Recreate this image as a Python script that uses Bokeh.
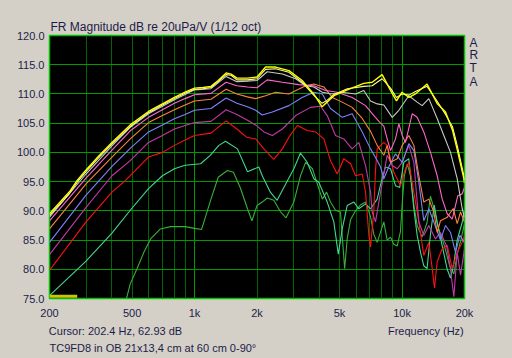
from bokeh.plotting import figure
from bokeh.models import (Range1d, FixedTicker, CustomJSTickFormatter, LinearAxis,
                          LogAxis, Title)
from bokeh.embed import file_html
from bokeh.resources import INLINE

# ---------------- data ----------------
x_ticks = [200, 500, 1000, 2000, 5000, 10000, 20000]
x_tick_labels = ["200", "500", "1k", "2k", "5k", "10k", "20k"]
y_ticks = [75, 80, 85, 90, 95, 100, 105, 110, 115, 120]
grid_major_freqs = [1000, 10000]
grid_minor_freqs = [300, 400, 500, 600, 700, 800, 900,
                    2000, 3000, 4000, 5000, 6000, 7000, 8000, 9000]

title_text = "FR Magnitude dB re 20uPa/V (1/12 oct)"
cursor_text = "Cursor: 202.4 Hz, 62.93 dB"
xlabel_text = "Frequency (Hz)"
note_text = "TC9FD8 in OB 21x13,4 cm at 60 cm 0-90\u00b0"
arta_letters = ["A", "R", "T", "A"]

freq_0 = [200, 250, 272, 300, 350, 400, 490, 600, 700, 800, 900, 1000, 1100, 1200, 1300,
          1420, 1500, 1600, 1800, 2000, 2200, 2460, 2850, 3300, 3750, 4120, 4350, 4700,
          5450, 6540, 7180, 8020, 8800, 9400, 10000, 10800, 11600, 13200, 14800, 16200,
          17500, 18500, 19860, 20000]
spl_0 = [89.5, 93.3, 95.2, 97.0, 99.6, 101.7, 104.7, 107.0, 108.3, 109.4, 110.3, 111.0, 111.1,
         111.3, 112.3, 113.6, 113.4, 112.7, 112.7, 112.9, 114.6, 114.6, 114.0, 112.3, 110.0,
         107.8, 108.6, 109.7, 110.7, 111.8, 112.0, 113.3, 110.6, 108.8, 110.3, 109.4, 110.0,
         111.7, 108.3, 106.9, 103.8, 100.3, 95.5, 94.8]

freq_1 = freq_0
spl_1 = [89.2, 93.0, 94.9, 96.7, 99.3, 101.4, 104.4, 106.8, 108.1, 109.2, 110.1, 110.8, 110.9,
         111.1, 112.1, 113.3, 113.2, 112.4, 112.4, 112.6, 114.2, 114.3, 113.7, 112.0, 109.8,
         108.4, 108.9, 109.9, 110.9, 111.3, 111.4, 112.6, 111.0, 109.4, 110.0, 109.8, 110.4,
         111.3, 108.7, 106.5, 104.4, 101.0, 96.0, 95.2]

freq_2 = [200, 300, 400, 490, 600, 700, 800, 900, 1000, 1200, 1420, 1600, 1800, 2000, 2240,
          2650, 3070, 3430, 3760, 4130, 4600, 5150, 5970, 6540, 7050, 7600, 8170, 8970, 9650,
          10780, 11830, 12500, 13460, 14770, 15900, 17120, 18440, 19490, 20000]
spl_2 = [88.9, 96.3, 101.1, 104.3, 106.6, 107.9, 109.0, 109.9, 110.7, 110.9, 113.0, 112.1,
         112.2, 112.3, 113.8, 113.4, 112.6, 111.4, 111.2, 110.3, 110.0, 110.3, 110.0, 110.6,
         108.8, 108.3, 108.1, 106.0, 107.2, 109.7, 108.6, 108.0, 109.2, 105.8, 102.9, 100.0,
         95.5, 90.4, 88.9]

freq_3 = [200, 300, 400, 490, 600, 700, 800, 900, 1000, 1200, 1420, 1600, 1800, 2000, 2240,
          2650, 3180, 3760, 4280, 4870, 5750, 6670, 7440, 7880, 8170, 8480, 8800, 9300, 9650,
          10020, 10390, 11190, 11830, 12730, 13710, 14770, 15620, 16510, 17460, 18570, 19490,
          20000]
spl_3 = [88.3, 95.6, 100.4, 103.7, 106.0, 107.3, 108.4, 109.2, 109.85, 110.1, 112.0, 111.4,
         111.2, 111.05, 112.4, 112.0, 111.6, 111.4, 110.6, 110.3, 109.4, 108.0, 106.0, 105.0,
         104.5, 102.3, 100.3, 102.3, 104.9, 102.9, 101.7, 106.6, 106.0, 103.5, 100.0, 96.0,
         92.0, 89.5, 88.6, 92.6, 92.9, 94.0]

freq_4 = [200, 300, 400, 490, 600, 700, 800, 900, 1000, 1200, 1420, 1600, 1800, 1970, 2200,
          2460, 2850, 3430, 3760, 4200, 4610, 5150, 5750, 6430, 7050, 7590, 8170, 8480, 8800,
          9480, 10020, 10780, 11400, 12050, 12730, 13460, 14230, 14770, 15320, 16510, 17640,
          18440, 19140, 20000]
spl_4 = [86.9, 94.6, 99.2, 102.3, 105.1, 106.3, 107.3, 108.1, 108.8, 109.1, 110.8, 110.0,
         109.5, 109.2, 109.7, 110.3, 110.0, 111.4, 111.7, 111.2, 109.4, 108.6, 107.7, 105.8,
         103.6, 101.2, 99.5, 101.2, 98.3, 98.9, 101.2, 102.9, 101.2, 96.0, 91.5, 92.0, 89.8,
         86.3, 88.3, 88.9, 90.4, 87.8, 89.8, 88.1]

freq_5 = [200, 300, 400, 490, 600, 700, 800, 900, 1000, 1200, 1420, 1600, 1800, 1970, 2120,
          2370, 2850, 3300, 3760, 4130, 4520, 5150, 5750, 6430, 7050, 7590, 7880, 8170, 8630,
          9300, 10020, 10780, 11400, 12050, 12730, 13460, 14230, 15320, 16200, 17120, 18100,
          18990, 20000]
spl_5 = [84.6, 92.7, 97.6, 100.7, 103.5, 104.7, 105.75, 106.5, 107.2, 107.5, 109.3, 108.4,
         107.8, 107.2, 106.4, 106.9, 108.0, 109.4, 110.3, 110.0, 107.5, 106.0, 106.6, 103.5,
         100.6, 98.6, 97.5, 95.5, 97.5, 99.75, 98.3, 101.5, 100.3, 94.9, 88.3, 90.35, 88.1,
         85.0, 87.5, 86.3, 82.9, 85.8, 84.6]

freq_6 = [200, 300, 400, 490, 600, 700, 800, 900, 1000, 1200, 1420, 1600, 1800, 1970, 2160,
          2370, 2650, 3070, 3620, 4050, 4360, 4780, 5240, 5750, 6190, 6670, 7050, 7180, 7450,
          7880, 8480, 8970, 9480, 10020, 10780, 11400, 12050, 12730, 13460, 14490, 15320,
          16400, 17120, 17770, 18440, 19140, 20000]
spl_6 = [82.5, 90.6, 96.0, 98.6, 101.7, 102.9, 104.0, 104.6, 105.1, 105.3, 107.3, 106.5,
         105.5, 104.7, 103.5, 102.9, 104.0, 106.3, 107.7, 107.9, 106.3, 102.9, 102.3, 100.6,
         101.7, 97.75, 93.2, 89.8, 88.1, 93.2, 99.5, 97.75, 97.2, 98.3, 101.2, 98.3, 88.1,
         85.8, 87.5, 85.2, 86.3, 84.0, 80.0, 75.3, 82.9, 79.0, 83.5]

freq_7 = [200, 300, 400, 465, 600, 700, 800, 900, 1000, 1200, 1420, 1600, 1780, 1970, 2160,
          2410, 2650, 2850, 3130, 3490, 3830, 4200, 4520, 4870, 5240, 5650, 5970, 6430, 6670,
          6920, 7050, 7310, 7450, 7590, 8170, 8480, 9130, 9830, 10390, 10780, 11400, 12050,
          12730, 13460, 13980, 14340, 14770, 15620, 16510, 17460, 18440, 19490, 20000]
spl_7 = [79.8, 88.1, 93.2, 95.2, 99.2, 100.0, 101.2, 102.1, 102.9, 103.3, 105.4, 104.0,
         102.6, 102.3, 100.6, 98.8, 100.6, 102.6, 104.6, 103.75, 103.5, 102.3, 98.6, 96.3,
         98.9, 98.05, 96.0, 96.3, 93.2, 85.8, 83.8, 90.0, 97.0, 100.6, 101.7, 101.2, 96.6,
         94.3, 97.2, 98.3, 93.2, 88.1, 82.35, 84.6, 80.1, 76.8, 81.3, 83.5, 84.1, 80.1, 82.9,
         84.6, 85.8]

freq_8 = [200, 300, 400, 490, 600, 700, 800, 900, 1070, 1190, 1310, 1410, 1610, 1800, 2040,
          2120, 2320, 2500, 2750, 3010, 3240, 3490, 3760, 3970, 4360, 4690, 4930, 5150, 5440,
          5860, 6190, 6670, 7050, 7590, 7880, 8320, 8800, 9300, 9750, 10200, 10780, 11400,
          11830, 12280, 12730, 13200, 13710, 14300, 14770, 15620, 16510, 17120, 17770, 18440,
          19490, 20000]
spl_8 = [75.5, 81.4, 86.2, 90.1, 93.8, 96.0, 97.2, 97.8, 98.05, 99.5, 101.2, 101.9, 100.6,
         96.7, 97.5, 96.0, 93.2, 91.8, 94.6, 97.2, 99.9, 98.3, 95.5, 94.9, 91.5, 88.1, 82.6,
         86.9, 90.9, 91.5, 90.35, 91.2, 90.35, 92.0, 94.5, 97.5, 97.2, 94.3, 94.0, 98.3, 98.9,
         90.35, 85.8, 82.9, 80.6, 80.1, 86.0, 91.0, 88.0, 84.0, 80.0, 78.5, 81.0, 85.0, 88.0,
         89.9]

freq_9 = [470, 490, 528, 570, 614, 684, 766, 900, 1000, 1080, 1110, 1200, 1300, 1440, 1540,
          1660, 1800, 1890, 2000, 2120, 2240, 2410, 2600, 2760, 3010, 3240, 3430, 3700, 3930,
          4130, 4330, 4520, 4780, 5050, 5290, 5440, 5650, 5970, 6300, 6670, 7050, 7310, 7590,
          8170, 8480, 8800, 9130, 9480, 9830, 10020, 10250, 10600, 11000, 11400, 11830, 12500,
          13200, 13700, 14230, 15000, 16000, 17000, 17770, 18440, 19200, 20000]
spl_9 = [75.0, 77.5, 80.1, 82.9, 85.2, 86.9, 87.3, 87.3, 87.0, 86.8, 88.1, 92.0, 95.75, 96.9,
         96.6, 94.0, 90.35, 88.3, 90.9, 91.5, 92.2, 91.8, 89.8, 88.8, 91.5, 96.0, 98.3, 97.2,
         94.3, 92.0, 93.2, 91.5, 90.1, 89.8, 80.1, 85.2, 88.5, 90.0, 91.0, 91.5, 89.0, 86.0,
         84.6, 88.1, 85.0, 85.5, 84.3, 84.0, 86.5, 91.2, 96.0, 98.0, 96.0, 91.0, 87.5, 85.5,
         88.0, 92.5, 90.5, 87.0, 84.0, 80.5, 79.2, 82.5, 85.0, 87.8]

cursor_freq = [200, 272]
cursor_db = [75.4, 75.4]

# ---------------- styling / placement ----------------
BG = "#d4d0c8"
TXT = "#1c1c48"
FONT = "Liberation Sans"
ARTA_POS = [118.7, 116.6, 114.4, 112.1]       # vertical places of the letters (dB scale)
INFO_POS = [416, 13030]                        # horizontal places of the info line (Hz scale)

series = [
    (freq_9, spl_9, "#38b038", 1.1),
    (freq_8, spl_8, "#40d890", 1.1),
    (freq_7, spl_7, "#ff1010", 1.1),
    (freq_6, spl_6, "#c03aa8", 1.1),
    (freq_5, spl_5, "#8080ff", 1.1),
    (freq_4, spl_4, "#ff8040", 1.1),
    (freq_3, spl_3, "#ff66cc", 1.1),
    (freq_2, spl_2, "#c8c8c8", 1.1),
    (freq_1, spl_1, "#ffff90", 1.1),
    (freq_0, spl_0, "#ffff00", 1.4),
]

p = figure(width=512, height=358, x_axis_type="log",
           x_range=Range1d(200, 20000), y_range=Range1d(75, 120),
           output_backend="svg", toolbar_location=None,
           background_fill_color="black", border_fill_color=BG,
           min_border_left=49, min_border_right=48,
           min_border_top=35, min_border_bottom=60)

p.outline_line_color = "#00c000"
p.outline_line_width = 1.5

# grids
p.ygrid.ticker = FixedTicker(ticks=y_ticks)
p.ygrid.grid_line_color = "#009a00"
p.xgrid.ticker = FixedTicker(ticks=grid_major_freqs, minor_ticks=grid_minor_freqs)
p.xgrid.grid_line_color = "#009a00"
p.xgrid.minor_grid_line_color = "#006400"


def style_axis(ax, size="11px"):
    ax.axis_line_color = None
    ax.major_tick_line_color = None
    ax.minor_tick_line_color = None
    ax.major_tick_out = 0
    ax.major_tick_in = 0
    ax.major_label_text_font = FONT
    ax.major_label_text_font_size = size
    ax.major_label_text_color = TXT


def mapper(keys, labels):
    m = {str(k): l for k, l in zip(keys, labels)}
    return CustomJSTickFormatter(
        args=dict(m=m),
        code="const k = String(Math.round(tick * 10) / 10); return (k in m) ? m[k] : '';")


# main axes
p.xaxis.ticker = FixedTicker(ticks=x_ticks)
p.xaxis.formatter = mapper(x_ticks, x_tick_labels)
p.yaxis.ticker = FixedTicker(ticks=y_ticks)
p.yaxis.formatter = CustomJSTickFormatter(code="return tick.toFixed(1);")
for ax in (p.xaxis[0], p.yaxis[0]):
    style_axis(ax)
p.yaxis.major_label_standoff = 5
p.xaxis.major_label_standoff = 8

# info line under the x labels: cursor readout (left) and axis name (right)
info_axis = LogAxis(ticker=FixedTicker(ticks=INFO_POS),
                    formatter=mapper(INFO_POS, [cursor_text, xlabel_text]))
style_axis(info_axis)
info_axis.major_label_standoff = 3
p.add_layout(info_axis, "below")

# bottom note
p.add_layout(Title(text=note_text, align="left", offset=0, standoff=0,
                   text_font=FONT, text_font_size="11px", text_color=TXT,
                   text_font_style="normal"), "below")

# title above
p.add_layout(Title(text=title_text, align="left", offset=1, standoff=4,
                   text_font=FONT, text_font_size="12px", text_color=TXT,
                   text_font_style="normal"), "above")

# "ARTA" stacked on the right
arta_axis = LinearAxis(ticker=FixedTicker(ticks=ARTA_POS),
                       formatter=mapper(ARTA_POS, arta_letters))
style_axis(arta_axis, size="12px")
arta_axis.major_label_standoff = 5
p.add_layout(arta_axis, "right")

for fx, fy, col, lw in series:
    p.line(fx, fy, line_color=col, line_width=lw)

p.line(cursor_freq, cursor_db, line_color="#c8c800", line_width=3)

html = file_html(p, INLINE).replace("<body>", '<body style="margin:0;background-color:#d4d0c8;">')
open("out.html", "w").write(html)
